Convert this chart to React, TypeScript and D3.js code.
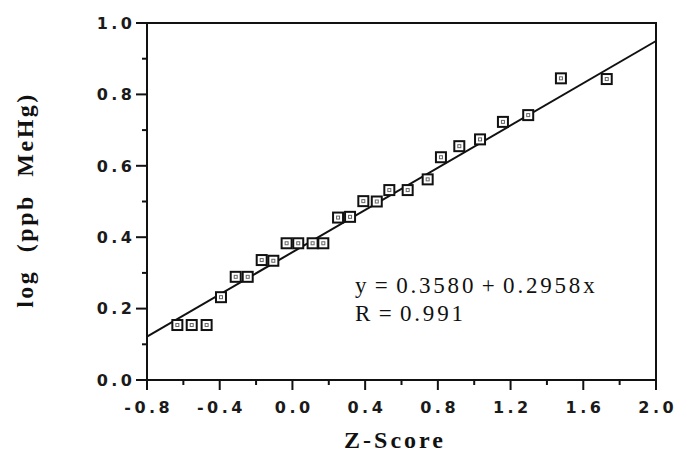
import React from "react";
import * as d3 from "d3";

// Normal probability plot of log methylmercury concentrations
const zScores = [
  -0.633, -0.554, -0.472, -0.393, -0.312, -0.246, -0.169, -0.105, -0.032, 0.032,
  0.111, 0.17, 0.251, 0.317, 0.39, 0.464, 0.533, 0.634, 0.744, 0.817,
  0.918, 1.032, 1.158, 1.297, 1.477, 1.729,
];
const logMeHg = [
  0.154, 0.154, 0.154, 0.232, 0.289, 0.289, 0.336, 0.334, 0.383, 0.383,
  0.383, 0.383, 0.455, 0.457, 0.501, 0.5, 0.532, 0.532, 0.562, 0.624,
  0.655, 0.674, 0.723, 0.742, 0.845, 0.843,
];

// Least-squares fit
const intercept = 0.358;
const slope = 0.2958;
const rValue = 0.991;

const xMajorTicks = [-0.8, -0.4, 0.0, 0.4, 0.8, 1.2, 1.6, 2.0];
const xMinorTicks = [-0.6, -0.2, 0.2, 0.6, 1.0, 1.4, 1.8];
const yMajorTicks = [0.0, 0.2, 0.4, 0.6, 0.8, 1.0];
const yMinorTicks = [0.1, 0.3, 0.5, 0.7, 0.9];

const W = 677;
const H = 455;

// one decimal, plain hyphen for negatives
const fmt = (v: number) => d3.format(".1f")(v).replace("\u2212", "-");

export default function App() {
  const x = d3.scaleLinear().domain([-0.8, 2.0]).range([147, 656]);
  const y = d3.scaleLinear().domain([0, 1]).range([380, 23]);
  const [x0, x1] = x.domain();
  const line = d3
    .line<number>()
    .x((d) => x(d))
    .y((d) => y(intercept + slope * d));

  const tickFont = "'DejaVu Sans', sans-serif";
  const serif = "'Liberation Serif', 'Times New Roman', serif";
  const ls = 3.5;

  return (
    <svg
      width={W}
      height={H}
      style={{ position: "absolute", left: 0, top: 0, background: "#fff" }}
    >
      {/* frame */}
      <rect
        x={x(x0)}
        y={y(1)}
        width={x(x1) - x(x0)}
        height={y(0) - y(1)}
        fill="none"
        stroke="#111"
        strokeWidth={2}
      />

      {/* x axis ticks */}
      {xMajorTicks.map((t) => (
        <g key={"xm" + t}>
          <line x1={x(t)} x2={x(t)} y1={y(0)} y2={y(0) + 10} stroke="#111" strokeWidth={2} />
          <text
            x={x(t) + ls / 2}
            y={413}
            textAnchor="middle"
            fontFamily={tickFont}
            fontWeight="bold"
            fontSize={16}
            letterSpacing={ls}
            fill="#1a1a1a"
          >
            {fmt(t)}
          </text>
        </g>
      ))}
      {xMinorTicks.map((t) => (
        <line key={"xn" + t} x1={x(t)} x2={x(t)} y1={y(0)} y2={y(0) + 5} stroke="#111" strokeWidth={2} />
      ))}

      {/* y axis ticks */}
      {yMajorTicks.map((t) => (
        <g key={"ym" + t}>
          <line x1={x(x0) - 11} x2={x(x0)} y1={y(t)} y2={y(t)} stroke="#111" strokeWidth={2} />
          <text
            x={132 + ls}
            y={y(t)}
            dy="0.36em"
            textAnchor="end"
            fontFamily={tickFont}
            fontWeight="bold"
            fontSize={16}
            letterSpacing={ls}
            fill="#1a1a1a"
          >
            {fmt(t)}
          </text>
        </g>
      ))}
      {yMinorTicks.map((t) => (
        <line key={"yn" + t} x1={x(x0) - 5} x2={x(x0)} y1={y(t)} y2={y(t)} stroke="#111" strokeWidth={2} />
      ))}

      {/* regression line */}
      <path d={line([x0, x1]) ?? ""} fill="none" stroke="#111" strokeWidth={2} />

      {/* observations */}
      {zScores.map((z, i) => (
        <g key={i} transform={`translate(${x(z)},${y(logMeHg[i])})`}>
          <rect x={-5} y={-5} width={10} height={10} fill="#fff" stroke="#111" strokeWidth={2} />
          <rect x={-1.5} y={-1.5} width={3} height={3} fill="none" stroke="#666" strokeWidth={1} />
        </g>
      ))}

      {/* fit annotation */}
      <text x={355} y={292.5} fontFamily={serif} fontSize={23} letterSpacing={2.8} wordSpacing={-3} fill="#111">
        {`y = ${intercept.toFixed(4)} + ${slope.toFixed(4)}x`}
      </text>
      <text x={355} y={321} fontFamily={serif} fontSize={23} letterSpacing={2.8} wordSpacing={-3} fill="#111">
        {`R = ${rValue}`}
      </text>

      {/* axis titles */}
      <text
        x={395}
        y={448}
        textAnchor="middle"
        fontFamily={serif}
        fontWeight="bold"
        fontSize={24}
        letterSpacing={3}
        fill="#111"
      >
        Z-Score
      </text>
      <text
        transform={`translate(33,${200}) rotate(-90)`}
        textAnchor="middle"
        fontFamily={serif}
        fontWeight="bold"
        fontSize={24}
        letterSpacing={2.5}
        wordSpacing={9}
        fill="#111"
      >
        log (ppb MeHg)
      </text>
    </svg>
  );
}
